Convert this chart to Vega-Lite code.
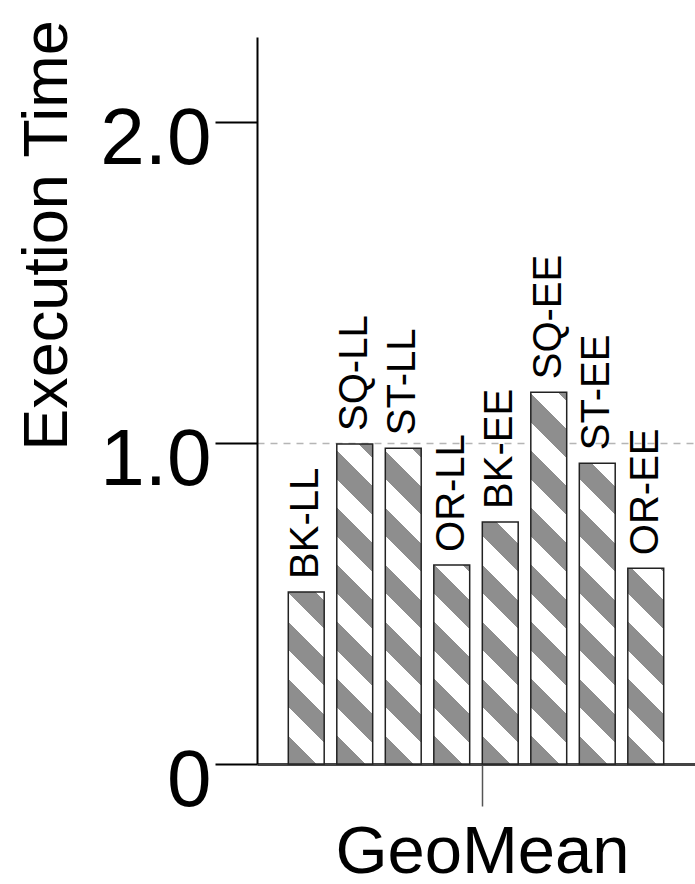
{
  "$schema": "https://vega.github.io/schema/vega-lite/v6.json",
  "width": 438,
  "height": 727,
  "autosize": {"type": "none"},
  "padding": {"left": 257, "top": 37, "right": 0, "bottom": 120},
  "background": "white",
  "config": {"font": "Liberation Sans", "view": {"stroke": null}},
  "data": {"values": [
    {"group": "GeoMean", "config": "BK-LL", "time": 0.536},
    {"group": "GeoMean", "config": "SQ-LL", "time": 0.997},
    {"group": "GeoMean", "config": "ST-LL", "time": 0.984},
    {"group": "GeoMean", "config": "OR-LL", "time": 0.620},
    {"group": "GeoMean", "config": "BK-EE", "time": 0.754},
    {"group": "GeoMean", "config": "SQ-EE", "time": 1.158},
    {"group": "GeoMean", "config": "ST-EE", "time": 0.937},
    {"group": "GeoMean", "config": "OR-EE", "time": 0.610}
  ]},
  "encoding": {
    "x": {
      "field": "group", "type": "nominal",
      "scale": {"paddingInner": 0, "paddingOuter": 0.0644},
      "axis": {
        "title": null, "labelAngle": 0, "labelFontSize": 67, "labelColor": "black", "labelLimit": 0,
        "labelPadding": 13, "tickSize": 42, "tickColor": "#555", "tickWidth": 1.5,
        "tickOffset": 6, "domainColor": "#444", "domainWidth": 3, "grid": false
      }
    },
    "xOffset": {
      "field": "config", "type": "nominal",
      "sort": ["BK-LL", "SQ-LL", "ST-LL", "OR-LL", "BK-EE", "SQ-EE", "ST-EE", "OR-EE"],
      "scale": {"paddingInner": 0.26, "paddingOuter": 0.13}
    },
    "y": {
      "field": "time", "type": "quantitative",
      "scale": {"domain": [0, 2.2648], "nice": false, "zero": true},
      "axis": {
        "title": "Execution Time", "titleFontSize": 63, "titleFontWeight": "normal", "titleColor": "black",
        "titleX": -191, "titleY": 198, "titleAngle": 270, "titleAlign": "center", "titleBaseline": "alphabetic",
        "values": [0, 1, 2],
        "labelExpr": "datum.value === 0 ? '0' : format(datum.value, '.1f')",
        "labelFontSize": 80, "labelColor": "black", "labelPadding": 4, "labelBaseline": "middle",
        "labelOffset": 17, "labelFlush": false, "labelBound": false, "labelOverlap": false,
        "tickSize": 42, "tickWidth": 2, "tickColor": "black",
        "domainColor": "black", "domainWidth": 2,
        "grid": true, "gridColor": "#b5b5b5", "gridDash": [7, 6], "gridWidth": 1.5,
        "gridOpacity": {"condition": {"test": "datum.value === 1", "value": 1}, "value": 0}
      }
    }
  },
  "layer": [
    {
      "mark": {"type": "bar", "stroke": "#222", "strokeWidth": 1.5},
      "encoding": {
        "fill": {
          "condition": [
            {"test": "datum.config === 'BK-LL'", "value": {"gradient": "linear", "x1": 0, "y1": 1, "x2": 0.5298, "y2": -1.5398, "stops": [
              {"offset": 0, "color": "#8e8e8e"}, {"offset": 0.0625, "color": "#8e8e8e"}, {"offset": 0.0625, "color": "#ffffff"}, {"offset": 0.125, "color": "#ffffff"},
              {"offset": 0.125, "color": "#8e8e8e"}, {"offset": 0.1875, "color": "#8e8e8e"}, {"offset": 0.1875, "color": "#ffffff"}, {"offset": 0.25, "color": "#ffffff"},
              {"offset": 0.25, "color": "#8e8e8e"}, {"offset": 0.3125, "color": "#8e8e8e"}, {"offset": 0.3125, "color": "#ffffff"}, {"offset": 0.375, "color": "#ffffff"},
              {"offset": 0.375, "color": "#8e8e8e"}, {"offset": 0.4375, "color": "#8e8e8e"}, {"offset": 0.4375, "color": "#ffffff"}, {"offset": 0.5, "color": "#ffffff"},
              {"offset": 0.5, "color": "#8e8e8e"}, {"offset": 0.5625, "color": "#8e8e8e"}, {"offset": 0.5625, "color": "#ffffff"}, {"offset": 0.625, "color": "#ffffff"},
              {"offset": 0.625, "color": "#8e8e8e"}, {"offset": 0.6875, "color": "#8e8e8e"}, {"offset": 0.6875, "color": "#ffffff"}, {"offset": 0.75, "color": "#ffffff"},
              {"offset": 0.75, "color": "#8e8e8e"}, {"offset": 0.8125, "color": "#8e8e8e"}, {"offset": 0.8125, "color": "#ffffff"}, {"offset": 0.875, "color": "#ffffff"},
              {"offset": 0.875, "color": "#8e8e8e"}, {"offset": 0.9375, "color": "#8e8e8e"}, {"offset": 0.9375, "color": "#ffffff"}, {"offset": 1, "color": "#ffffff"}]}},
            {"test": "datum.config === 'SQ-LL'", "value": {"gradient": "linear", "x1": 0, "y1": 1, "x2": 0.1578, "y2": -0.4071, "stops": [
              {"offset": 0, "color": "#8e8e8e"}, {"offset": 0.0625, "color": "#8e8e8e"}, {"offset": 0.0625, "color": "#ffffff"}, {"offset": 0.125, "color": "#ffffff"},
              {"offset": 0.125, "color": "#8e8e8e"}, {"offset": 0.1875, "color": "#8e8e8e"}, {"offset": 0.1875, "color": "#ffffff"}, {"offset": 0.25, "color": "#ffffff"},
              {"offset": 0.25, "color": "#8e8e8e"}, {"offset": 0.3125, "color": "#8e8e8e"}, {"offset": 0.3125, "color": "#ffffff"}, {"offset": 0.375, "color": "#ffffff"},
              {"offset": 0.375, "color": "#8e8e8e"}, {"offset": 0.4375, "color": "#8e8e8e"}, {"offset": 0.4375, "color": "#ffffff"}, {"offset": 0.5, "color": "#ffffff"},
              {"offset": 0.5, "color": "#8e8e8e"}, {"offset": 0.5625, "color": "#8e8e8e"}, {"offset": 0.5625, "color": "#ffffff"}, {"offset": 0.625, "color": "#ffffff"},
              {"offset": 0.625, "color": "#8e8e8e"}, {"offset": 0.6875, "color": "#8e8e8e"}, {"offset": 0.6875, "color": "#ffffff"}, {"offset": 0.75, "color": "#ffffff"},
              {"offset": 0.75, "color": "#8e8e8e"}, {"offset": 0.8125, "color": "#8e8e8e"}, {"offset": 0.8125, "color": "#ffffff"}, {"offset": 0.875, "color": "#ffffff"},
              {"offset": 0.875, "color": "#8e8e8e"}, {"offset": 0.9375, "color": "#8e8e8e"}, {"offset": 0.9375, "color": "#ffffff"}, {"offset": 1, "color": "#ffffff"}]}},
            {"test": "datum.config === 'ST-LL'", "value": {"gradient": "linear", "x1": 0, "y1": 1, "x2": 0.1620, "y2": -0.4253, "stops": [
              {"offset": 0, "color": "#8e8e8e"}, {"offset": 0.0625, "color": "#8e8e8e"}, {"offset": 0.0625, "color": "#ffffff"}, {"offset": 0.125, "color": "#ffffff"},
              {"offset": 0.125, "color": "#8e8e8e"}, {"offset": 0.1875, "color": "#8e8e8e"}, {"offset": 0.1875, "color": "#ffffff"}, {"offset": 0.25, "color": "#ffffff"},
              {"offset": 0.25, "color": "#8e8e8e"}, {"offset": 0.3125, "color": "#8e8e8e"}, {"offset": 0.3125, "color": "#ffffff"}, {"offset": 0.375, "color": "#ffffff"},
              {"offset": 0.375, "color": "#8e8e8e"}, {"offset": 0.4375, "color": "#8e8e8e"}, {"offset": 0.4375, "color": "#ffffff"}, {"offset": 0.5, "color": "#ffffff"},
              {"offset": 0.5, "color": "#8e8e8e"}, {"offset": 0.5625, "color": "#8e8e8e"}, {"offset": 0.5625, "color": "#ffffff"}, {"offset": 0.625, "color": "#ffffff"},
              {"offset": 0.625, "color": "#8e8e8e"}, {"offset": 0.6875, "color": "#8e8e8e"}, {"offset": 0.6875, "color": "#ffffff"}, {"offset": 0.75, "color": "#ffffff"},
              {"offset": 0.75, "color": "#8e8e8e"}, {"offset": 0.8125, "color": "#8e8e8e"}, {"offset": 0.8125, "color": "#ffffff"}, {"offset": 0.875, "color": "#ffffff"},
              {"offset": 0.875, "color": "#8e8e8e"}, {"offset": 0.9375, "color": "#8e8e8e"}, {"offset": 0.9375, "color": "#ffffff"}, {"offset": 1, "color": "#ffffff"}]}},
            {"test": "datum.config === 'OR-LL'", "value": {"gradient": "linear", "x1": 0, "y1": 1, "x2": 0.4002, "y2": -1.2191, "stops": [
              {"offset": 0, "color": "#8e8e8e"}, {"offset": 0.0625, "color": "#8e8e8e"}, {"offset": 0.0625, "color": "#ffffff"}, {"offset": 0.125, "color": "#ffffff"},
              {"offset": 0.125, "color": "#8e8e8e"}, {"offset": 0.1875, "color": "#8e8e8e"}, {"offset": 0.1875, "color": "#ffffff"}, {"offset": 0.25, "color": "#ffffff"},
              {"offset": 0.25, "color": "#8e8e8e"}, {"offset": 0.3125, "color": "#8e8e8e"}, {"offset": 0.3125, "color": "#ffffff"}, {"offset": 0.375, "color": "#ffffff"},
              {"offset": 0.375, "color": "#8e8e8e"}, {"offset": 0.4375, "color": "#8e8e8e"}, {"offset": 0.4375, "color": "#ffffff"}, {"offset": 0.5, "color": "#ffffff"},
              {"offset": 0.5, "color": "#8e8e8e"}, {"offset": 0.5625, "color": "#8e8e8e"}, {"offset": 0.5625, "color": "#ffffff"}, {"offset": 0.625, "color": "#ffffff"},
              {"offset": 0.625, "color": "#8e8e8e"}, {"offset": 0.6875, "color": "#8e8e8e"}, {"offset": 0.6875, "color": "#ffffff"}, {"offset": 0.75, "color": "#ffffff"},
              {"offset": 0.75, "color": "#8e8e8e"}, {"offset": 0.8125, "color": "#8e8e8e"}, {"offset": 0.8125, "color": "#ffffff"}, {"offset": 0.875, "color": "#ffffff"},
              {"offset": 0.875, "color": "#8e8e8e"}, {"offset": 0.9375, "color": "#8e8e8e"}, {"offset": 0.9375, "color": "#ffffff"}, {"offset": 1, "color": "#ffffff"}]}},
            {"test": "datum.config === 'BK-EE'", "value": {"gradient": "linear", "x1": 0, "y1": 1, "x2": 0.2734, "y2": -0.8435, "stops": [
              {"offset": 0, "color": "#8e8e8e"}, {"offset": 0.0625, "color": "#8e8e8e"}, {"offset": 0.0625, "color": "#ffffff"}, {"offset": 0.125, "color": "#ffffff"},
              {"offset": 0.125, "color": "#8e8e8e"}, {"offset": 0.1875, "color": "#8e8e8e"}, {"offset": 0.1875, "color": "#ffffff"}, {"offset": 0.25, "color": "#ffffff"},
              {"offset": 0.25, "color": "#8e8e8e"}, {"offset": 0.3125, "color": "#8e8e8e"}, {"offset": 0.3125, "color": "#ffffff"}, {"offset": 0.375, "color": "#ffffff"},
              {"offset": 0.375, "color": "#8e8e8e"}, {"offset": 0.4375, "color": "#8e8e8e"}, {"offset": 0.4375, "color": "#ffffff"}, {"offset": 0.5, "color": "#ffffff"},
              {"offset": 0.5, "color": "#8e8e8e"}, {"offset": 0.5625, "color": "#8e8e8e"}, {"offset": 0.5625, "color": "#ffffff"}, {"offset": 0.625, "color": "#ffffff"},
              {"offset": 0.625, "color": "#8e8e8e"}, {"offset": 0.6875, "color": "#8e8e8e"}, {"offset": 0.6875, "color": "#ffffff"}, {"offset": 0.75, "color": "#ffffff"},
              {"offset": 0.75, "color": "#8e8e8e"}, {"offset": 0.8125, "color": "#8e8e8e"}, {"offset": 0.8125, "color": "#ffffff"}, {"offset": 0.875, "color": "#ffffff"},
              {"offset": 0.875, "color": "#8e8e8e"}, {"offset": 0.9375, "color": "#8e8e8e"}, {"offset": 0.9375, "color": "#ffffff"}, {"offset": 1, "color": "#ffffff"}]}},
            {"test": "datum.config === 'SQ-EE'", "value": {"gradient": "linear", "x1": 0, "y1": 1, "x2": 0.1174, "y2": -0.2154, "stops": [
              {"offset": 0, "color": "#8e8e8e"}, {"offset": 0.0625, "color": "#8e8e8e"}, {"offset": 0.0625, "color": "#ffffff"}, {"offset": 0.125, "color": "#ffffff"},
              {"offset": 0.125, "color": "#8e8e8e"}, {"offset": 0.1875, "color": "#8e8e8e"}, {"offset": 0.1875, "color": "#ffffff"}, {"offset": 0.25, "color": "#ffffff"},
              {"offset": 0.25, "color": "#8e8e8e"}, {"offset": 0.3125, "color": "#8e8e8e"}, {"offset": 0.3125, "color": "#ffffff"}, {"offset": 0.375, "color": "#ffffff"},
              {"offset": 0.375, "color": "#8e8e8e"}, {"offset": 0.4375, "color": "#8e8e8e"}, {"offset": 0.4375, "color": "#ffffff"}, {"offset": 0.5, "color": "#ffffff"},
              {"offset": 0.5, "color": "#8e8e8e"}, {"offset": 0.5625, "color": "#8e8e8e"}, {"offset": 0.5625, "color": "#ffffff"}, {"offset": 0.625, "color": "#ffffff"},
              {"offset": 0.625, "color": "#8e8e8e"}, {"offset": 0.6875, "color": "#8e8e8e"}, {"offset": 0.6875, "color": "#ffffff"}, {"offset": 0.75, "color": "#ffffff"},
              {"offset": 0.75, "color": "#8e8e8e"}, {"offset": 0.8125, "color": "#8e8e8e"}, {"offset": 0.8125, "color": "#ffffff"}, {"offset": 0.875, "color": "#ffffff"},
              {"offset": 0.875, "color": "#8e8e8e"}, {"offset": 0.9375, "color": "#8e8e8e"}, {"offset": 0.9375, "color": "#ffffff"}, {"offset": 1, "color": "#ffffff"}]}},
            {"test": "datum.config === 'ST-EE'", "value": {"gradient": "linear", "x1": 0, "y1": 1, "x2": 0.1784, "y2": -0.4948, "stops": [
              {"offset": 0, "color": "#8e8e8e"}, {"offset": 0.0625, "color": "#8e8e8e"}, {"offset": 0.0625, "color": "#ffffff"}, {"offset": 0.125, "color": "#ffffff"},
              {"offset": 0.125, "color": "#8e8e8e"}, {"offset": 0.1875, "color": "#8e8e8e"}, {"offset": 0.1875, "color": "#ffffff"}, {"offset": 0.25, "color": "#ffffff"},
              {"offset": 0.25, "color": "#8e8e8e"}, {"offset": 0.3125, "color": "#8e8e8e"}, {"offset": 0.3125, "color": "#ffffff"}, {"offset": 0.375, "color": "#ffffff"},
              {"offset": 0.375, "color": "#8e8e8e"}, {"offset": 0.4375, "color": "#8e8e8e"}, {"offset": 0.4375, "color": "#ffffff"}, {"offset": 0.5, "color": "#ffffff"},
              {"offset": 0.5, "color": "#8e8e8e"}, {"offset": 0.5625, "color": "#8e8e8e"}, {"offset": 0.5625, "color": "#ffffff"}, {"offset": 0.625, "color": "#ffffff"},
              {"offset": 0.625, "color": "#8e8e8e"}, {"offset": 0.6875, "color": "#8e8e8e"}, {"offset": 0.6875, "color": "#ffffff"}, {"offset": 0.75, "color": "#ffffff"},
              {"offset": 0.75, "color": "#8e8e8e"}, {"offset": 0.8125, "color": "#8e8e8e"}, {"offset": 0.8125, "color": "#ffffff"}, {"offset": 0.875, "color": "#ffffff"},
              {"offset": 0.875, "color": "#8e8e8e"}, {"offset": 0.9375, "color": "#8e8e8e"}, {"offset": 0.9375, "color": "#ffffff"}, {"offset": 1, "color": "#ffffff"}]}},
            {"test": "datum.config === 'OR-EE'", "value": {"gradient": "linear", "x1": 0, "y1": 1, "x2": 0.4130, "y2": -1.2531, "stops": [
              {"offset": 0, "color": "#8e8e8e"}, {"offset": 0.0625, "color": "#8e8e8e"}, {"offset": 0.0625, "color": "#ffffff"}, {"offset": 0.125, "color": "#ffffff"},
              {"offset": 0.125, "color": "#8e8e8e"}, {"offset": 0.1875, "color": "#8e8e8e"}, {"offset": 0.1875, "color": "#ffffff"}, {"offset": 0.25, "color": "#ffffff"},
              {"offset": 0.25, "color": "#8e8e8e"}, {"offset": 0.3125, "color": "#8e8e8e"}, {"offset": 0.3125, "color": "#ffffff"}, {"offset": 0.375, "color": "#ffffff"},
              {"offset": 0.375, "color": "#8e8e8e"}, {"offset": 0.4375, "color": "#8e8e8e"}, {"offset": 0.4375, "color": "#ffffff"}, {"offset": 0.5, "color": "#ffffff"},
              {"offset": 0.5, "color": "#8e8e8e"}, {"offset": 0.5625, "color": "#8e8e8e"}, {"offset": 0.5625, "color": "#ffffff"}, {"offset": 0.625, "color": "#ffffff"},
              {"offset": 0.625, "color": "#8e8e8e"}, {"offset": 0.6875, "color": "#8e8e8e"}, {"offset": 0.6875, "color": "#ffffff"}, {"offset": 0.75, "color": "#ffffff"},
              {"offset": 0.75, "color": "#8e8e8e"}, {"offset": 0.8125, "color": "#8e8e8e"}, {"offset": 0.8125, "color": "#ffffff"}, {"offset": 0.875, "color": "#ffffff"},
              {"offset": 0.875, "color": "#8e8e8e"}, {"offset": 0.9375, "color": "#8e8e8e"}, {"offset": 0.9375, "color": "#ffffff"}, {"offset": 1, "color": "#ffffff"}]}}
          ],
          "value": "#8e8e8e"
        }
      }
    },
    {
      "mark": {"type": "text", "angle": 270, "align": "left", "baseline": "middle", "dx": 13, "fontSize": 40, "color": "black"},
      "encoding": {"text": {"field": "config", "type": "nominal"}}
    }
  ]
}
